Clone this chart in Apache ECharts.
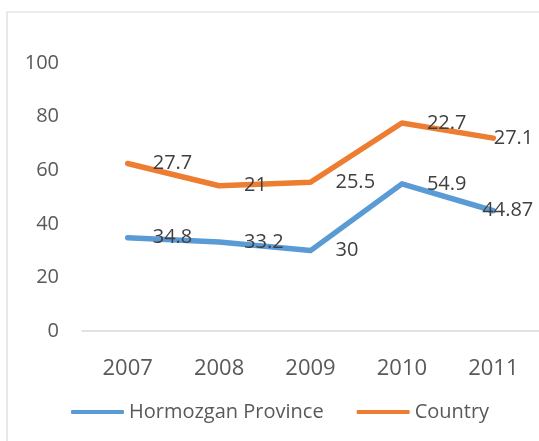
<!DOCTYPE html>
<html>
<head>
<meta charset="utf-8">
<style>
  html, body { margin: 0; padding: 0; background: #ffffff; }
  #chart { width: 539px; height: 441px; }
</style>
<script src="https://cdn.jsdelivr.net/npm/echarts@6/dist/echarts.min.js"></script>
</head>
<body>
<div id="chart"></div>
<script>
// Years on the category axis
const years = ['2007', '2008', '2009', '2010', '2011'];
// Series values (Country is stacked on top of Hormozgan Province)
const provinceValues = [34.8, 33.2, 30, 54.9, 44.87];
const countryValues = [27.7, 21, 25.5, 22.7, 27.1];
// Value axis ticks
const yTicks = [0, 20, 40, 60, 80, 100];

const BLUE = '#5B9BD5';
const ORANGE = '#ED7D31';
const FONT = '"Open Sans", "Noto Sans", sans-serif';

const chart = echarts.init(document.getElementById('chart'), null, { renderer: 'canvas' });

function seriesLabels(values) {
  // last point's label is pulled back inside the plot, right-aligned
  return values.map((v, i) => {
    const item = { value: v };
    if (i === values.length - 1) {
      item.label = { align: 'right', distance: 39 };
    }
    return item;
  });
}

const labelStyle = {
  show: true,
  position: 'right',
  distance: 24,
  color: '#404040',
  fontFamily: FONT,
  fontSize: 20
};

chart.setOption({
  animation: false,
  backgroundColor: '#ffffff',
  graphic: [{
    type: 'rect',
    shape: { x: 7, y: 12, width: 600, height: 500 },
    style: { fill: 'none', stroke: '#D9D9D9', lineWidth: 1.2 },
    silent: true,
    z: 0
  }],
  grid: { left: 82, right: 0, top: 63, bottom: 110 },
  legend: {
    left: 66,
    top: 397,
    itemWidth: 53,
    itemHeight: 4,
    itemGap: 33,
    icon: 'roundRect',
    textStyle: { color: '#595959', fontFamily: FONT, fontSize: 20 },
    data: [
      { name: 'Hormozgan Province', itemStyle: { color: BLUE, opacity: 1 } },
      { name: 'Country', itemStyle: { color: ORANGE, opacity: 1 } }
    ]
  },
  xAxis: {
    type: 'category',
    data: years,
    boundaryGap: true,
    axisLine: { show: true, lineStyle: { color: '#D9D9D9', width: 1.5 } },
    axisTick: { show: false },
    axisLabel: { color: '#595959', fontFamily: FONT, fontSize: 22, margin: 27 },
    splitLine: { show: false }
  },
  yAxis: {
    type: 'value',
    min: yTicks[0],
    max: yTicks[yTicks.length - 1],
    interval: yTicks[1] - yTicks[0],
    axisLine: { show: false },
    axisTick: { show: false },
    splitLine: { show: false },
    axisLabel: { color: '#595959', fontFamily: FONT, fontSize: 20, margin: 23 }
  },
  series: [
    {
      name: 'Hormozgan Province',
      type: 'line',
      stack: 'total',
      data: seriesLabels(provinceValues),
      symbol: 'circle',
      symbolSize: 2,
      itemStyle: { color: 'transparent' },
      lineStyle: { color: BLUE, width: 5.5, cap: 'round', join: 'round' },
      label: labelStyle,
      emphasis: { disabled: true },
      z: 3
    },
    {
      name: 'Country',
      type: 'line',
      stack: 'total',
      data: seriesLabels(countryValues),
      symbol: 'circle',
      symbolSize: 2,
      itemStyle: { color: 'transparent' },
      lineStyle: { color: ORANGE, width: 5.5, cap: 'round', join: 'round' },
      label: labelStyle,
      emphasis: { disabled: true },
      z: 3
    }
  ]
});
</script>
</body>
</html>
